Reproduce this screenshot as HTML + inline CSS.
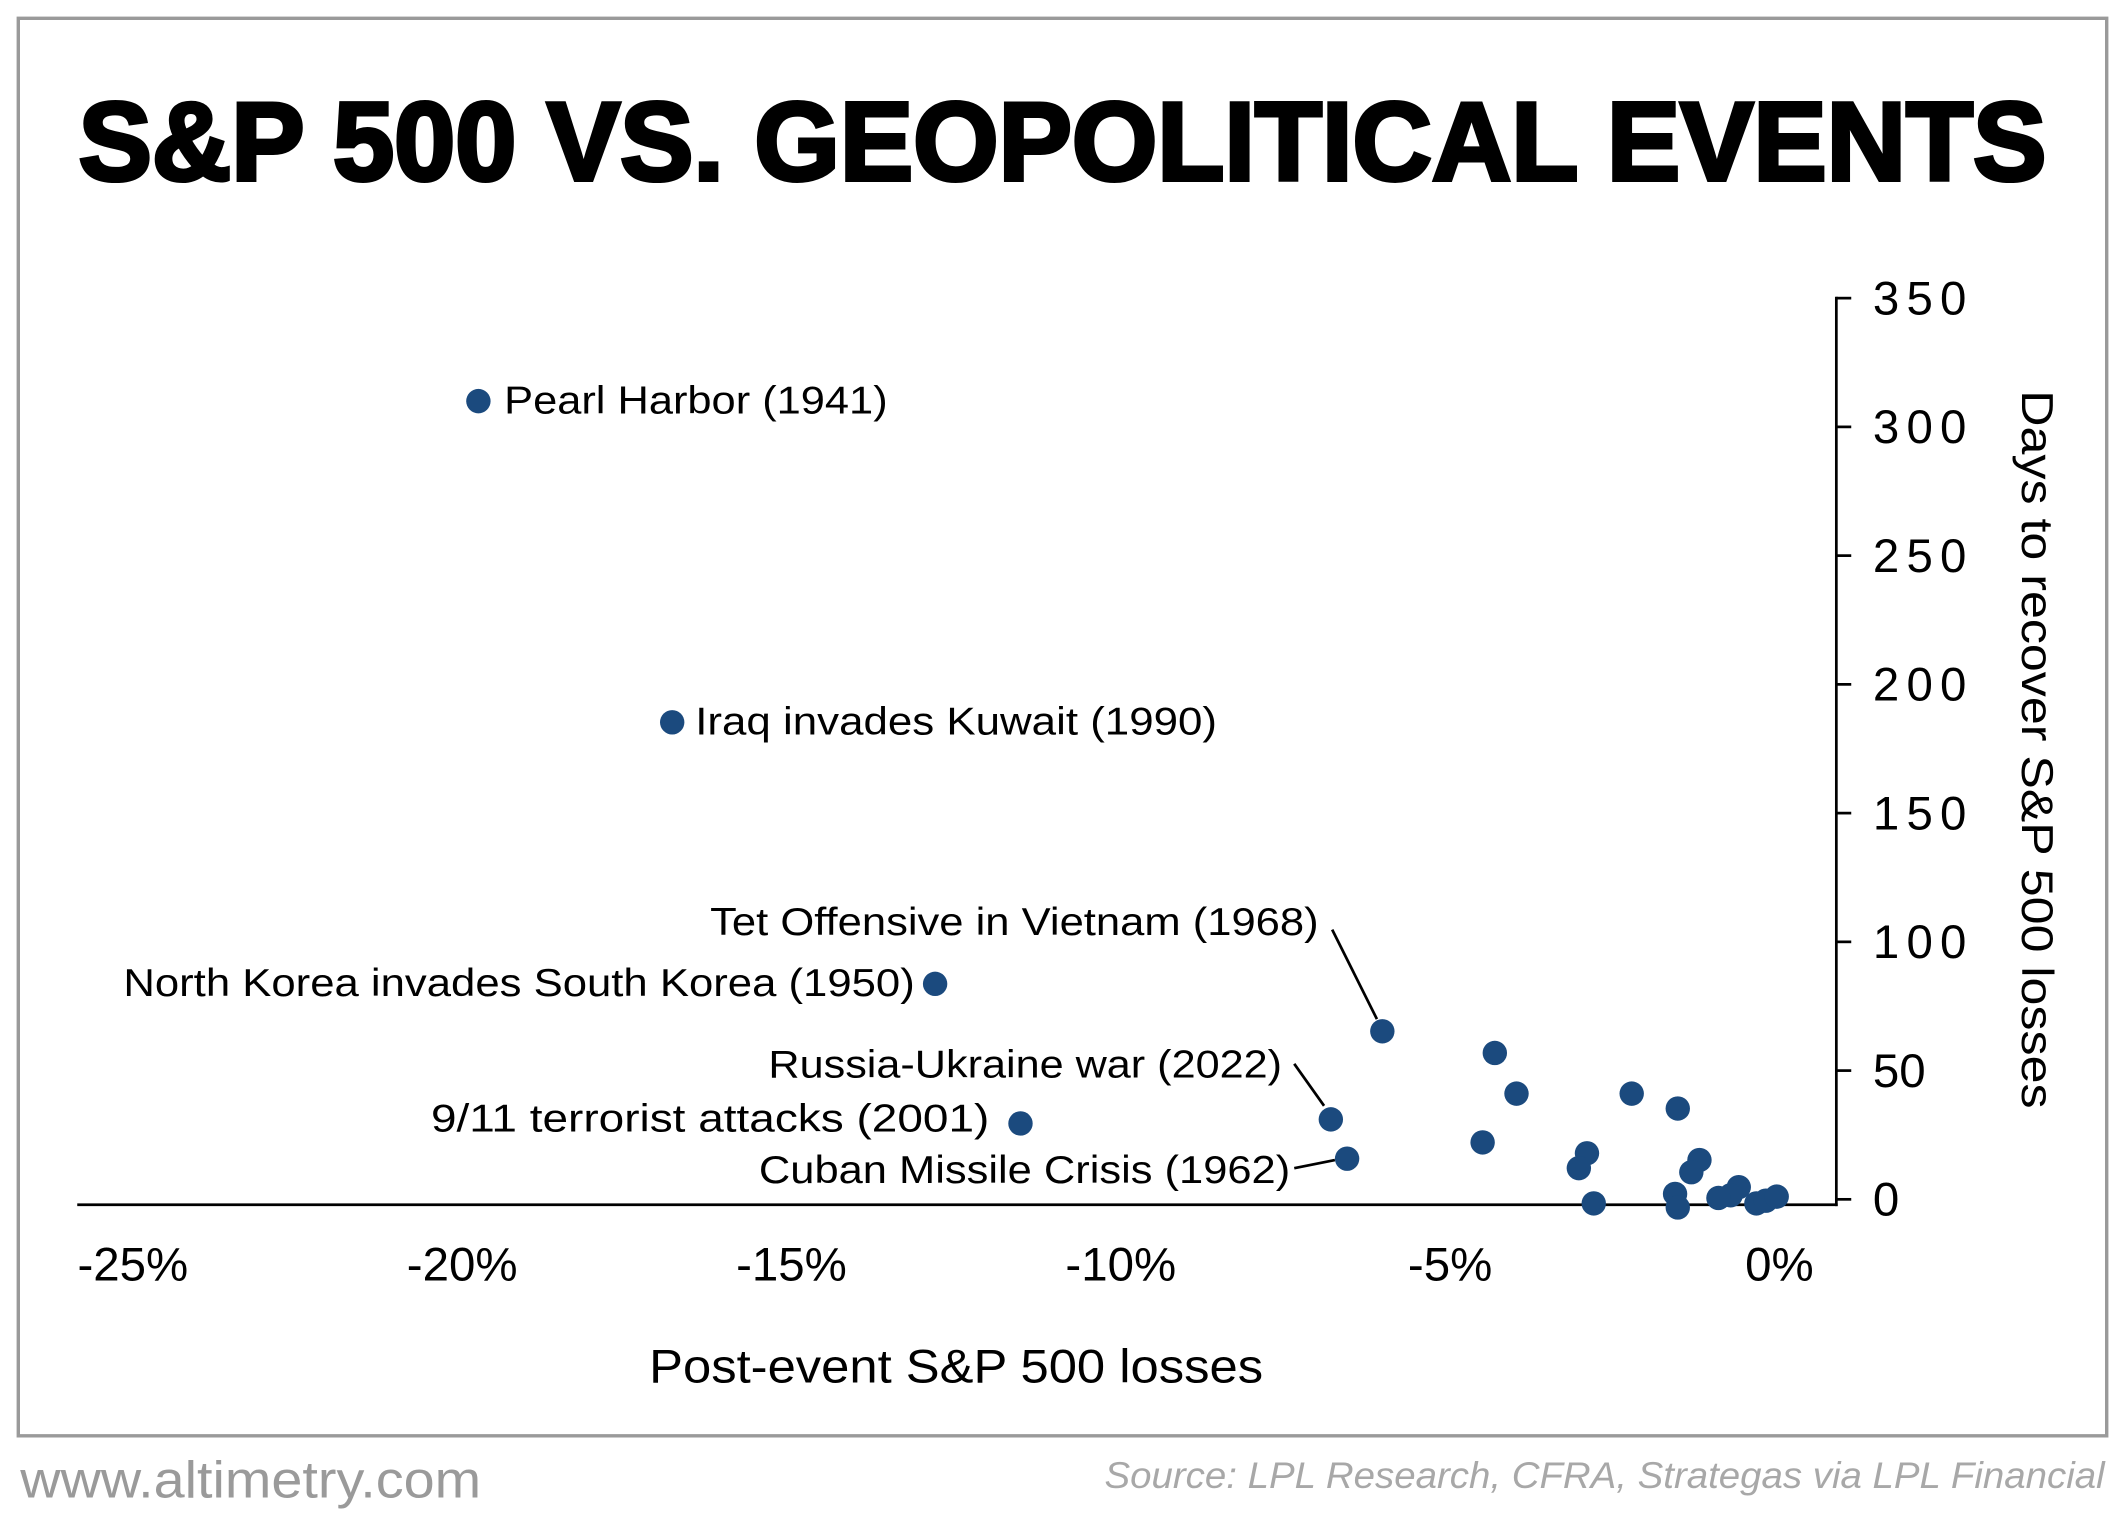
<!DOCTYPE html>
<html><head><meta charset="utf-8"><style>html,body{margin:0;padding:0;background:#fff}svg{display:block}</style></head>
<body>
<svg width="2125" height="1530" viewBox="0 0 1568 1129" preserveAspectRatio="none" xmlns="http://www.w3.org/2000/svg" font-family="Liberation Sans, sans-serif">
<rect x="0" y="0" width="1568" height="1129" fill="#fff"/>
<rect x="13.5" y="13.5" width="1541" height="1046" fill="none" stroke="#9a9a9a" stroke-width="2.5"/>
<text x="784" y="133" text-anchor="middle" font-size="82" font-weight="bold" fill="#000" textLength="1452" lengthAdjust="spacingAndGlyphs" stroke="#000" stroke-width="3">S&amp;P 500 VS. GEOPOLITICAL EVENTS</text>
<line x1="57" y1="889" x2="1356" y2="889" stroke="#000" stroke-width="2"/>
<line x1="1355" y1="219" x2="1355" y2="890" stroke="#000" stroke-width="2"/>
<g stroke="#000" stroke-width="2">
<line x1="1355" y1="220" x2="1366" y2="220"/><line x1="1355" y1="315" x2="1366" y2="315"/><line x1="1355" y1="410" x2="1366" y2="410"/><line x1="1355" y1="505" x2="1366" y2="505"/><line x1="1355" y1="600" x2="1366" y2="600"/><line x1="1355" y1="695" x2="1366" y2="695"/><line x1="1355" y1="790" x2="1366" y2="790"/><line x1="1355" y1="885" x2="1366" y2="885"/>
</g>
<g font-size="35" fill="#000">
<text x="1382" y="232" textLength="69">350</text><text x="1382" y="327" textLength="69">300</text><text x="1382" y="422" textLength="69">250</text><text x="1382" y="517" textLength="69">200</text><text x="1382" y="612" textLength="69">150</text><text x="1382" y="707" textLength="69">100</text><text x="1382" y="802">50</text><text x="1382" y="897">0</text>
</g>
<g font-size="35" fill="#000" text-anchor="middle">
<text x="98" y="945">-25%</text><text x="341" y="945">-20%</text><text x="584" y="945">-15%</text><text x="827" y="945">-10%</text><text x="1070" y="945">-5%</text><text x="1313" y="945">0%</text>
</g>
<text transform="translate(1492,553) rotate(90)" text-anchor="middle" font-size="33" fill="#000" textLength="530" lengthAdjust="spacingAndGlyphs">Days to recover S&amp;P 500 losses</text>
<text x="479" y="1020" font-size="35" fill="#000" textLength="453" lengthAdjust="spacingAndGlyphs">Post-event S&amp;P 500 losses</text>
<g stroke="#000" stroke-width="2" fill="none">
<line x1="983" y1="686" x2="1016" y2="752"/><line x1="955" y1="785" x2="977" y2="816"/><line x1="955" y1="862" x2="985" y2="856"/>
</g>
<g fill="#1b4a7e">
<circle cx="353" cy="296" r="9"/><circle cx="496" cy="533" r="9"/><circle cx="690" cy="726" r="9"/><circle cx="1020" cy="761" r="9"/><circle cx="753" cy="829" r="9"/><circle cx="982" cy="826" r="9"/><circle cx="994" cy="855" r="9"/><circle cx="1103" cy="777" r="9"/><circle cx="1119" cy="807" r="9"/><circle cx="1094" cy="843" r="9"/><circle cx="1204" cy="807" r="9"/><circle cx="1238" cy="818" r="9"/><circle cx="1171" cy="851" r="9"/><circle cx="1165" cy="862" r="9"/><circle cx="1176" cy="888" r="9"/><circle cx="1254" cy="856" r="9"/><circle cx="1248" cy="865" r="9"/><circle cx="1236" cy="881" r="9"/><circle cx="1238" cy="891" r="9"/><circle cx="1283" cy="876" r="9"/><circle cx="1277" cy="882" r="9"/><circle cx="1268" cy="884" r="9"/><circle cx="1296" cy="888" r="9"/><circle cx="1303" cy="886" r="9"/><circle cx="1311" cy="883" r="9"/>
</g>
<g font-size="29" fill="#000">
<text x="372" y="305" textLength="283" lengthAdjust="spacingAndGlyphs">Pearl Harbor (1941)</text>
<text x="513" y="542" textLength="385" lengthAdjust="spacingAndGlyphs">Iraq invades Kuwait (1990)</text>
<text x="524" y="690" textLength="449" lengthAdjust="spacingAndGlyphs">Tet Offensive in Vietnam (1968)</text>
<text x="91" y="735" textLength="584" lengthAdjust="spacingAndGlyphs">North Korea invades South Korea (1950)</text>
<text x="567" y="795" textLength="379" lengthAdjust="spacingAndGlyphs">Russia-Ukraine war (2022)</text>
<text x="318" y="835" textLength="412" lengthAdjust="spacingAndGlyphs">9/11 terrorist attacks (2001)</text>
<text x="560" y="873" textLength="392" lengthAdjust="spacingAndGlyphs">Cuban Missile Crisis (1962)</text>
</g>
<text x="15" y="1105" font-size="38" fill="#9a9a9a" textLength="340" lengthAdjust="spacingAndGlyphs">www.altimetry.com</text>
<text x="815" y="1098" font-size="27" font-style="italic" fill="#a8a8a8" textLength="738" lengthAdjust="spacingAndGlyphs">Source: LPL Research, CFRA, Strategas via LPL Financial</text>
</svg>
</body></html>
